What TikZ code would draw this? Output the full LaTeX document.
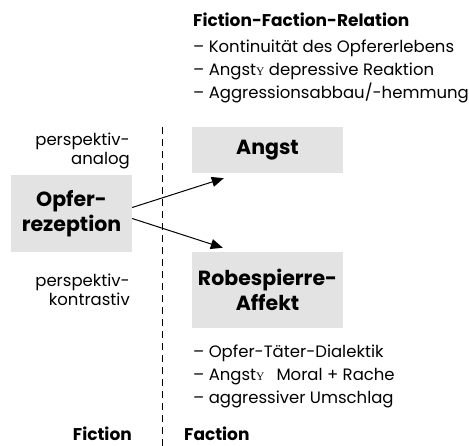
\documentclass[tikz,border=0pt]{standalone}
\usepackage{fontspec}
\setmainfont{Poppins}
\newfontfamily\glyphfont{Liberation Serif}
\usetikzlibrary{arrows.meta}
\definecolor{boxgray}{RGB}{227,227,227}
\newcommand{\tosym}{{\glyphfont\fontsize{11.5}{11.5}\selectfont Y}}
\tikzset{
  block/.style={fill=boxgray, inner sep=0pt, align=center, font=\fontsize{20.5}{25}\selectfont\bfseries},
  head/.style={anchor=base west, inner sep=0pt, font=\fontsize{17}{18}\selectfont\bfseries},
  item/.style={anchor=base west, inner sep=0pt, font=\fontsize{16.5}{20}\selectfont},
  side/.style={anchor=base east, inner sep=0pt, align=right, font=\fontsize{16.5}{19}\selectfont},
  link/.style={line width=1pt, -{Triangle[length=12pt,width=10pt]}},
}
\begin{document}
\begin{tikzpicture}[x=1pt,y=1pt]
  \useasboundingbox (0,0) rectangle (469,-446);
  % fiction / faction divider
  \coordinate (dtop) at (162,-127);
  \coordinate (dbot) at (162,-446);
  \draw[line width=0.9pt, dash pattern=on 7pt off 5pt] (dtop) -- (dbot);

  % boxes
  \node[block, minimum width=121pt, minimum height=77pt] (opfer) at (71.5,-213.5) {Opfer-\\rezeption};
  \node[block, minimum width=151pt, minimum height=46pt] (angst) at (267.5,-150) {Angst};
  \node[block, minimum width=151pt, minimum height=76pt] (robes) at (267.5,-290) {Robespierre-\\Affekt};

  % arrows
  \draw[link] ([yshift=6pt]opfer.east) -- ([xshift=32pt,yshift=-5pt]angst.south west);
  \draw[link] ([yshift=-5pt]opfer.east) -- ([xshift=31pt,yshift=4pt]robes.north west);

  % side labels
  \node[side] (analog) at (130,-165) {perspektiv-\\analog};
  \node[side] (kontr) at (130,-306) {perspektiv-\\kontrastiv};

  % relation list
  \node[head] (rel) at (193,-27) {Fiction-Faction-Relation};
  \foreach \txt [count=\i] in {Kontinuität des Opfererlebens, Angst\tosym{} depressive Reaktion, {Aggressionsabbau/-hemmung}}
    \node[item] (rel\i) at (193,-30-23*\i) {-- \txt};

  % affect list
  \foreach \txt [count=\i] in {Opfer-Täter-Dialektik, Angst\tosym\hspace{12pt}Moral + Rache, aggressiver Umschlag}
    \node[item] (aff\i) at (193,-335-23*\i) {-- \txt};

  % column titles
  \node[head, anchor=base east] (fic) at (132,-441) {Fiction};
  \node[head] (fac) at (184,-441) {Faction};
\end{tikzpicture}
\end{document}
